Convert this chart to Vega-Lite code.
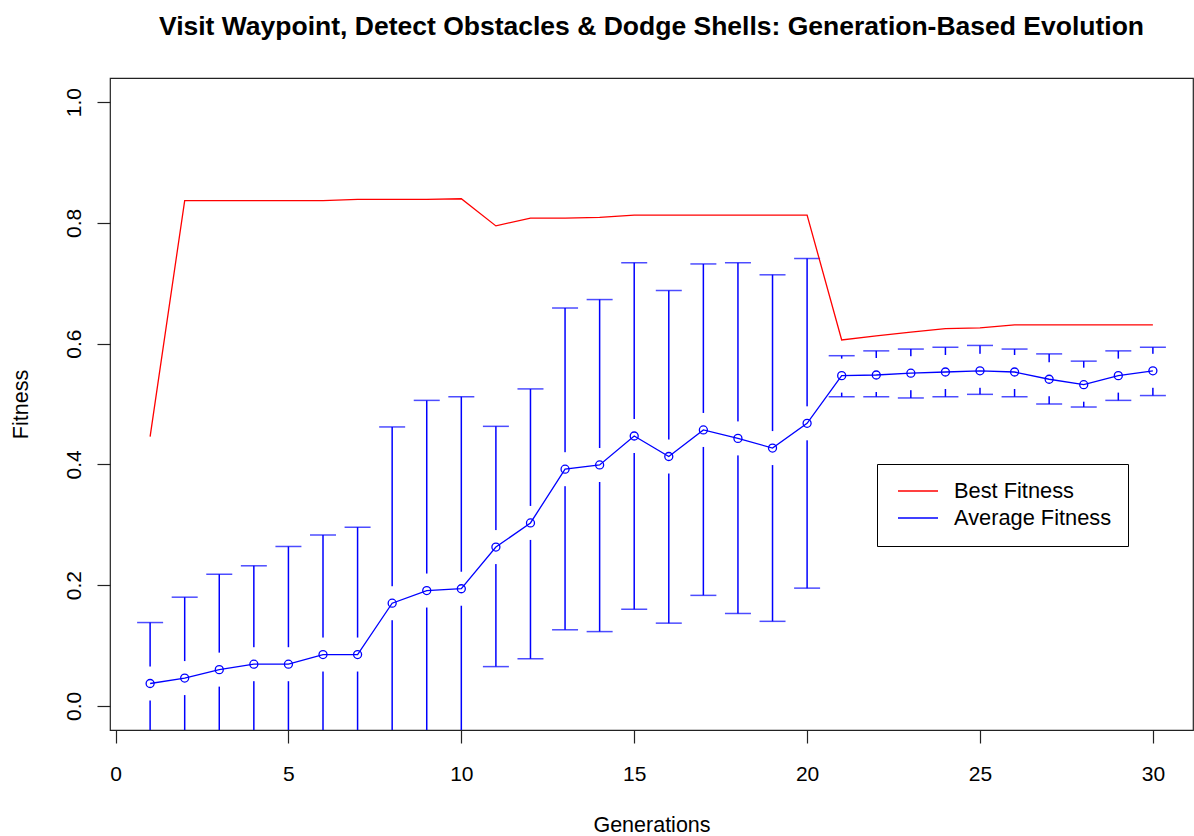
{
  "$schema": "https://vega.github.io/schema/vega-lite/v6.json",
  "width": 1083,
  "height": 652,
  "autosize": {"type": "none"},
  "padding": {"left": 110, "top": 78, "right": 1, "bottom": 106},
  "background": "white",
  "title": {
    "text": "Visit Waypoint, Detect Obstacles & Dodge Shells: Generation-Based Evolution",
    "font": "Liberation Sans", "fontSize": 26.5, "fontWeight": "bold", "color": "black",
    "anchor": "middle", "frame": "group", "baseline": "alphabetic", "offset": 17
  },
  "config": {
    "view": {"stroke": "#222222", "strokeWidth": 1.2},
    "axis": {
      "domain": false, "grid": false, "tickColor": "#222222", "tickSize": 13, "tickWidth": 1.2,
      "labelFont": "Liberation Sans", "labelFontSize": 21, "labelColor": "black",
      "titleFont": "Liberation Sans", "titleFontSize": 21.5, "titleFontWeight": "normal", "titleColor": "black",
      "labelFlush": false, "labelOverlap": false
    },
    "axisX": {
      "labelBaseline": "alphabetic", "labelPadding": 37.5,
      "titleX": 541.5, "titleY": 101.5, "titleBaseline": "alphabetic", "titleAlign": "center"
    },
    "axisY": {
      "labelAngle": -90, "labelAlign": "center", "labelBaseline": "alphabetic", "labelPadding": 16.5,
      "titleAngle": -90, "titleX": -82.5, "titleY": 326, "titleBaseline": "alphabetic", "titleAlign": "center"
    }
  },
  "data": {
    "values": [
      {"gen": 1, "best": 0.446, "avg": 0.037, "lo": -0.064, "hi": 0.138},
      {"gen": 2, "best": 0.837, "avg": 0.046, "lo": -0.087, "hi": 0.180},
      {"gen": 3, "best": 0.837, "avg": 0.060, "lo": -0.098, "hi": 0.218},
      {"gen": 4, "best": 0.837, "avg": 0.069, "lo": -0.094, "hi": 0.232},
      {"gen": 5, "best": 0.837, "avg": 0.069, "lo": -0.126, "hi": 0.264},
      {"gen": 6, "best": 0.837, "avg": 0.085, "lo": -0.113, "hi": 0.283},
      {"gen": 7, "best": 0.839, "avg": 0.085, "lo": -0.126, "hi": 0.296},
      {"gen": 8, "best": 0.839, "avg": 0.170, "lo": -0.122, "hi": 0.462},
      {"gen": 9, "best": 0.839, "avg": 0.191, "lo": -0.124, "hi": 0.506},
      {"gen": 10, "best": 0.840, "avg": 0.194, "lo": -0.124, "hi": 0.512},
      {"gen": 11, "best": 0.795, "avg": 0.263, "lo": 0.065, "hi": 0.463},
      {"gen": 12, "best": 0.808, "avg": 0.303, "lo": 0.078, "hi": 0.525},
      {"gen": 13, "best": 0.808, "avg": 0.392, "lo": 0.126, "hi": 0.659},
      {"gen": 14, "best": 0.809, "avg": 0.399, "lo": 0.123, "hi": 0.673},
      {"gen": 15, "best": 0.813, "avg": 0.447, "lo": 0.160, "hi": 0.734},
      {"gen": 16, "best": 0.813, "avg": 0.413, "lo": 0.137, "hi": 0.688},
      {"gen": 17, "best": 0.813, "avg": 0.457, "lo": 0.183, "hi": 0.732},
      {"gen": 18, "best": 0.813, "avg": 0.443, "lo": 0.153, "hi": 0.734},
      {"gen": 19, "best": 0.813, "avg": 0.427, "lo": 0.140, "hi": 0.714},
      {"gen": 20, "best": 0.813, "avg": 0.468, "lo": 0.195, "hi": 0.741},
      {"gen": 21, "best": 0.606, "avg": 0.547, "lo": 0.512, "hi": 0.580},
      {"gen": 22, "best": 0.613, "avg": 0.548, "lo": 0.512, "hi": 0.588},
      {"gen": 23, "best": 0.619, "avg": 0.551, "lo": 0.510, "hi": 0.591},
      {"gen": 24, "best": 0.625, "avg": 0.553, "lo": 0.512, "hi": 0.594},
      {"gen": 25, "best": 0.626, "avg": 0.555, "lo": 0.516, "hi": 0.597},
      {"gen": 26, "best": 0.631, "avg": 0.553, "lo": 0.512, "hi": 0.591},
      {"gen": 27, "best": 0.631, "avg": 0.541, "lo": 0.500, "hi": 0.583},
      {"gen": 28, "best": 0.631, "avg": 0.532, "lo": 0.495, "hi": 0.571},
      {"gen": 29, "best": 0.631, "avg": 0.547, "lo": 0.506, "hi": 0.588},
      {"gen": 30, "best": 0.631, "avg": 0.555, "lo": 0.514, "hi": 0.594}
    ]
  },
  "layer": [
    {
      "mark": {"type": "rule", "color": "#0000FF", "strokeWidth": 1.5, "clip": true},
      "encoding": {
        "x": {"field": "gen", "type": "quantitative", "title": "Generations",
              "scale": {"domain": [-0.16, 31.16], "nice": false, "zero": false},
              "axis": {"values": [0, 5, 10, 15, 20, 25, 30], "format": "d"}},
        "y": {"field": "lo", "type": "quantitative", "title": "Fitness",
              "scale": {"domain": [-0.04, 1.04], "nice": false, "zero": false},
              "axis": {"values": [0, 0.2, 0.4, 0.6, 0.8, 1.0], "format": ".1f"}},
        "y2": {"field": "hi"}
      }
    },
    {
      "mark": {"type": "tick", "orient": "horizontal", "size": 26, "thickness": 1.5, "color": "#0000FF", "clip": true},
      "encoding": {
        "x": {"field": "gen", "type": "quantitative", "title": "Generations"},
        "y": {"field": "hi", "type": "quantitative", "title": "Fitness"}
      }
    },
    {
      "mark": {"type": "tick", "orient": "horizontal", "size": 26, "thickness": 1.5, "color": "#0000FF", "clip": true},
      "encoding": {
        "x": {"field": "gen", "type": "quantitative", "title": "Generations"},
        "y": {"field": "lo", "type": "quantitative", "title": "Fitness"}
      }
    },
    {
      "mark": {"type": "tick", "orient": "vertical", "size": 34, "thickness": 4, "color": "white", "opacity": 1},
      "encoding": {
        "x": {"field": "gen", "type": "quantitative", "title": "Generations"},
        "y": {"field": "avg", "type": "quantitative", "title": "Fitness"}
      }
    },
    {
      "mark": {"type": "line", "strokeWidth": 1.3},
      "encoding": {
        "x": {"field": "gen", "type": "quantitative", "title": "Generations"},
        "y": {"field": "avg", "type": "quantitative", "title": "Fitness"},
        "color": {
          "datum": "Average Fitness",
          "scale": {"domain": ["Best Fitness", "Average Fitness"], "range": ["#FF0000", "#0000FF"]},
          "legend": {
            "title": null, "orient": "none", "legendX": 767, "legendY": 386,
            "strokeColor": "black", "fillColor": "white", "padding": 16, "rowPadding": 4,
            "symbolType": "M-2,0H2", "symbolSize": 400, "symbolStrokeWidth": 1.5, "symbolOffset": 14,
            "labelOffset": 25, "labelFontSize": 21.8, "labelFont": "Liberation Sans",
            "labelColor": "black", "labelLimit": 400
          }
        }
      }
    },
    {
      "mark": {"type": "line", "strokeWidth": 1.3},
      "encoding": {
        "x": {"field": "gen", "type": "quantitative", "title": "Generations"},
        "y": {"field": "best", "type": "quantitative", "title": "Fitness"},
        "color": {"datum": "Best Fitness"}
      }
    },
    {
      "mark": {"type": "point", "shape": "circle", "filled": false, "size": 64, "strokeWidth": 1.3, "color": "#0000FF", "opacity": 1},
      "encoding": {
        "x": {"field": "gen", "type": "quantitative", "title": "Generations"},
        "y": {"field": "avg", "type": "quantitative", "title": "Fitness"}
      }
    }
  ]
}
